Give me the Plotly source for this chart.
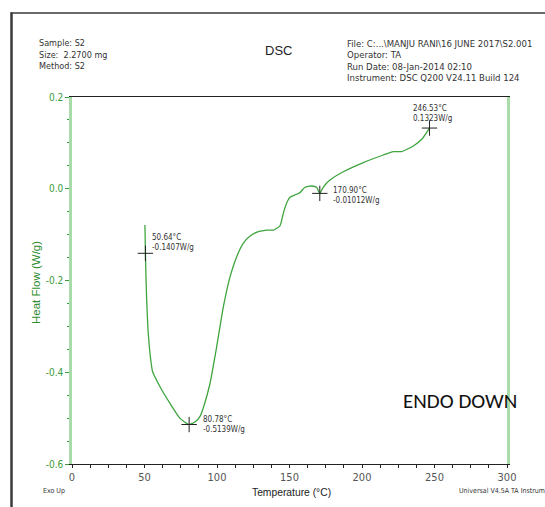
import plotly.graph_objects as go

# ---- data ----
temp = [50.3, 50.5, 50.64, 51.0, 51.5, 52.6, 54.3, 55.6, 60.7, 67.6, 74.5, 80.78,
        85.0, 88.5, 91.5, 95.2, 99.8, 104.4, 109.0, 113.6, 118.1, 122.8, 128.5, 134.3,
        138.9, 143.4, 145.7, 148.0, 150.3, 153.8, 157.2, 160.7, 165.3, 168.7,
        170.9, 172.3, 174.5, 177.9, 187.1, 200.9, 214.7, 221.6, 227.4, 235.4,
        241.2, 246.53]
heat_flow = [-0.079, -0.110, -0.1407, -0.190, -0.2425, -0.315, -0.373, -0.399,
             -0.4315, -0.468, -0.5005, -0.5139, -0.508, -0.495, -0.468, -0.424,
             -0.344, -0.257, -0.192, -0.148, -0.119, -0.103, -0.0935, -0.090,
             -0.090, -0.081, -0.0536, -0.0317, -0.0187, -0.0135, -0.0084, 0.0032,
             0.006, 0.003, -0.01012, -0.002, 0.0082, 0.019, 0.037, 0.057, 0.0736,
             0.081, 0.081, 0.0932, 0.1078, 0.1323]

peak_temp = [50.64, 80.78, 170.90, 246.53]
peak_flow = [-0.1407, -0.5139, -0.01012, 0.1323]
peak_labels = ["50.64°C<br>-0.1407W/g", "80.78°C<br>-0.5139W/g",
               "170.90°C<br>-0.01012W/g", "246.53°C<br>0.1323W/g"]
label_shift = [(5, 11), (12, 0), (11, -2), (-18, 15)]

x_ticks = [0, 50, 100, 150, 200, 250, 300]
y_ticks = [0.2, 0.0, -0.2, -0.4, -0.6]
y_tick_labels = ["0.2", "0.0", "-0.2", "-0.4", "-0.6"]

header_left = ["Sample: S2", "Size:  2.2700 mg", "Method: S2"]
header_right = ["File: C:...\\MANJU RANI\\16 JUNE 2017\\S2.001", "Operator: TA",
                "Run Date: 08-Jan-2014 02:10", "Instrument: DSC Q200 V24.11 Build 124"]

# ---- layout geometry (pixels) ----
W, H = 545, 507
L, R, T, B = 72, 507, 97, 464
NARROW = "Liberation Sans Narrow, Arial Narrow, DejaVu Sans Condensed, sans-serif"
SANS = "Liberation Sans, Arial, sans-serif"


def px(xp):
    return (xp - L) / (R - L)


def py(yp):
    return (B - yp) / (B - T)


fig = go.Figure()
fig.add_trace(go.Scatter(x=temp, y=heat_flow, mode="lines",
                         line=dict(color="#3fa53f", width=1.3, shape="spline",
                                   smoothing=0.5),
                         hoverinfo="skip"))
fig.add_trace(go.Scatter(x=peak_temp, y=peak_flow, mode="markers",
                         marker=dict(symbol="cross-thin-open", size=11, color="#222222",
                                     line=dict(color="#222222", width=1)),
                         hoverinfo="skip"))

annotations = []
for t, f, lab, (dx, dy) in zip(peak_temp, peak_flow, peak_labels, label_shift):
    annotations.append(dict(x=t, y=f, xref="x", yref="y", text=lab, showarrow=False,
                            xanchor="left", yanchor="middle", align="left",
                            xshift=dx, yshift=dy,
                            font=dict(family=NARROW, size=8, color="#333333")))

for i, s in enumerate(header_left):
    annotations.append(dict(x=px(37), y=py(43 + i * 11.5), xref="paper", yref="paper",
                            text=s, showarrow=False, xanchor="left", yanchor="middle",
                            font=dict(family=NARROW, size=9, color="#333333")))
for i, s in enumerate(header_right):
    annotations.append(dict(x=px(345), y=py(43 + i * 11.6), xref="paper", yref="paper",
                            text=s, showarrow=False, xanchor="left", yanchor="middle",
                            font=dict(family=NARROW, size=9.5, color="#333333")))
annotations.append(dict(x=px(278), y=py(50), xref="paper", yref="paper", text="DSC",
                        showarrow=False, xanchor="center", yanchor="middle",
                        font=dict(family=SANS, size=13, color="#222222")))
annotations.append(dict(x=px(36), y=py(283), xref="paper", yref="paper",
                        text="Heat Flow (W/g)", textangle=-90, showarrow=False,
                        xanchor="center", yanchor="middle",
                        font=dict(family=SANS, size=11.5, color="#2e8b2e")))
annotations.append(dict(x=px(291), y=py(492), xref="paper", yref="paper",
                        text="Temperature (°C)", showarrow=False,
                        xanchor="center", yanchor="middle",
                        font=dict(family=SANS, size=10.3, color="#222222")))
annotations.append(dict(x=px(41), y=py(491), xref="paper", yref="paper",
                        text="Exo Up", showarrow=False, xanchor="left", yanchor="middle",
                        font=dict(family=NARROW, size=7, color="#333333")))
annotations.append(dict(x=px(457), y=py(491), xref="paper", yref="paper",
                        text="Universal V4.5A TA Instruments", showarrow=False,
                        xanchor="left", yanchor="middle",
                        font=dict(family=NARROW, size=7, color="#333333")))
annotations.append(dict(x=px(401), y=py(401), xref="paper", yref="paper",
                        text="ENDO DOWN", showarrow=False, xanchor="left", yanchor="middle",
                        font=dict(family="Carlito, " + SANS, size=21, color="#111111")))

shapes = [
    dict(type="line", xref="paper", yref="paper", x0=px(11.5), x1=px(11.5),
         y0=py(12.5), y1=py(H + 2), line=dict(color="#3a3a3a", width=2.5)),
    dict(type="line", xref="paper", yref="paper", x0=px(10.5), x1=px(W + 2),
         y0=py(13), y1=py(13), line=dict(color="#3a3a3a", width=1.5)),
]

fig.update_layout(
    width=W, height=H,
    margin=dict(l=L, r=W - R, t=T, b=H - B, autoexpand=False),
    paper_bgcolor="white", plot_bgcolor="white",
    showlegend=False,
    annotations=annotations, shapes=shapes,
    xaxis=dict(range=[0, 300], tickvals=x_ticks, showgrid=False, zeroline=False,
               showline=True, linecolor="#222222", linewidth=1, mirror=True,
               ticks="outside", ticklen=3, tickcolor="#222222",
               minor=dict(dtick=12.5, ticks="outside", ticklen=3, tickcolor="#222222"),
               tickfont=dict(family=NARROW, size=11, color="#555555")),
    yaxis=dict(range=[-0.6, 0.2], tickvals=y_ticks, ticktext=y_tick_labels,
               showgrid=False, zeroline=False,
               showline=True, linecolor="#a8dca8", linewidth=2.5, mirror=True,
               ticks="outside", ticklen=4, tickcolor="#3c9c3c",
               minor=dict(dtick=0.05, ticks="outside", ticklen=2, tickcolor="#3c9c3c"),
               tickfont=dict(family=NARROW, size=10, color="#3c9c3c")),
)

fig.write_html("out.html")
